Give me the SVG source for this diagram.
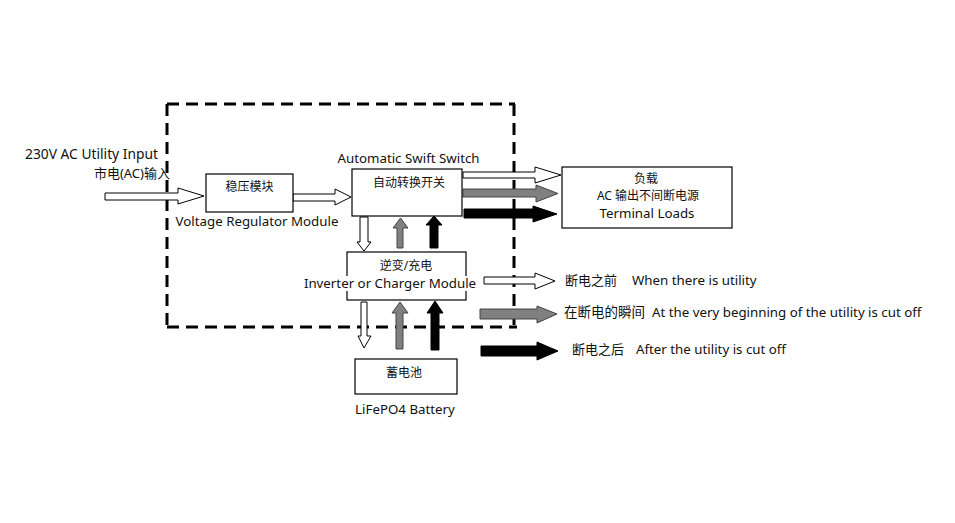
<svg xmlns="http://www.w3.org/2000/svg" width="955" height="523" viewBox="0 0 955 523">
<style>
text{font-family:"Noto Sans","Noto Sans CJK SC",sans-serif;fill:#111;}
.en{font-size:13.3px;}
.cn{font-size:12px;}
.box{fill:#fff;stroke:#000;stroke-width:1.2;}
.dash{fill:none;stroke:#000;stroke-width:3;stroke-dasharray:12 7;}
.aw{fill:#fff;stroke:#000;stroke-width:1;}
.ag{fill:#808080;stroke:#444;stroke-width:1;}
.ab{fill:#000;stroke:#000;stroke-width:1;}
</style>
<rect width="955" height="523" fill="#fff"/>
<g id="boundary">
<path class="dash" d="M167,104 H515 M167,104 V327 M514,104 V327 M167,327 H517"/>
</g>
<g id="connectors">
<polygon class="aw" points="105,193 178,193 178,188 204,196 178,204 178,200 105,200"/>
<polygon class="aw" points="293,194 335,194 335,189 351,197 335,205 335,201 293,201"/>
<polygon class="aw" points="463,172 535,172 535,167 561,175 535,183 535,178 463,178"/>
<polygon class="ag" points="463,189 536,189 536,185 558,193.5 536,202 536,197 463,197"/>
<polygon class="ab" points="464,209 533,209 533,206 557,214 533,222 533,218 464,218"/>
<polygon class="aw" points="360,217 368,217 368,242 371,242 364,251 357,242 360,242"/>
<polygon class="ag" points="397,248 403,248 403,228 408,228 400.5,218 393,228 397,228"/>
<polygon class="ab" points="430,248 438,248 438,225 442,225 434,216 426,225 430,225"/>
<polygon class="aw" points="361,302 367,302 367,336 371,336 364,348 358,336 361,336"/>
<polygon class="ag" points="396,349 403,349 403,313 408,313 400,302 392,313 396,313"/>
<polygon class="ab" points="431,350 439,350 439,313 443,313 435,301 427,313 431,313"/>
</g>
<g id="input-label">
<text class="en" x="25" y="159" style="font-size:13.8px">230V AC Utility Input</text>
<text class="cn" x="170" y="178" text-anchor="end" style="font-size:13px">市电(AC)输入</text>
</g>
<g id="voltage-regulator">
<rect class="box" x="206" y="174" width="87" height="38"/>
<text class="cn" x="249.5" y="191" text-anchor="middle">稳压模块</text>
<text class="en" x="257" y="226" text-anchor="middle">Voltage Regulator Module</text>
</g>
<g id="auto-switch">
<rect class="box" x="352" y="169" width="110" height="47"/>
<text class="en" x="408.5" y="163" text-anchor="middle">Automatic Swift Switch</text>
<text class="cn" x="409" y="187" text-anchor="middle">自动转换开关</text>
</g>
<g id="loads">
<rect class="box" x="562" y="167" width="170" height="61"/>
<text class="cn" x="646" y="183" text-anchor="middle">负载</text>
<text class="cn" x="648" y="200" text-anchor="middle">AC 输出不间断电源</text>
<text class="en" x="647" y="218" text-anchor="middle">Terminal Loads</text>
</g>
<g id="inverter">
<rect class="box" x="347" y="252" width="119" height="48"/>
<rect x="303" y="276" width="174" height="15" fill="#fff"/>
<text class="cn" x="406" y="270" text-anchor="middle">逆变/充电</text>
<text class="en" x="390" y="288" text-anchor="middle">Inverter or Charger Module</text>
</g>
<g id="battery">
<rect class="box" x="355" y="359" width="102" height="35"/>
<text class="cn" x="404" y="377" text-anchor="middle">蓄电池</text>
<text class="en" x="405" y="414" text-anchor="middle">LiFePO4 Battery</text>
</g>
<g id="legend">
<polygon class="aw" points="484,277 535,277 535,273 555,281 535,289 535,284 484,284"/>
<polygon class="ag" points="480,309 537,309 537,306 557,314 537,323 537,319 480,319"/>
<polygon class="ab" points="481,346 537,346 537,342 558,351 537,360 537,356 481,356"/>
<text class="en" x="565" y="285"><tspan style="font-size:13px">断电之前</tspan><tspan x="632">When there is utility</tspan></text>
<text class="en" x="564" y="317"><tspan style="font-size:13.5px">在断电的瞬间</tspan><tspan x="652">At the very beginning of the utility is cut off</tspan></text>
<text class="en" x="572" y="354"><tspan style="font-size:13px">断电之后</tspan><tspan x="636">After the utility is cut off</tspan></text>
</g>
</svg>
